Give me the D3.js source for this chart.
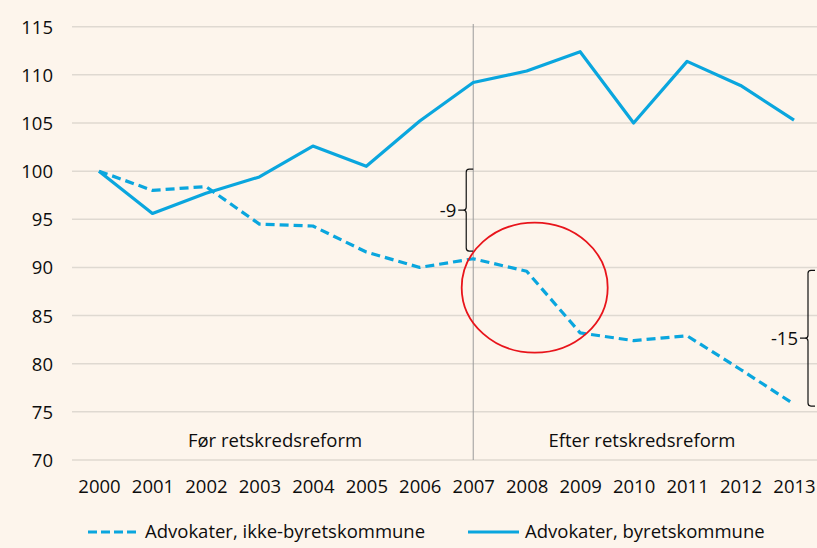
<!DOCTYPE html>
<html><head><meta charset="utf-8">
<script src="https://cdn.jsdelivr.net/npm/d3@7"></script>
<style>
html,body{margin:0;padding:0;background:#FDF5EC;}
svg{display:block;font-family:"Open Sans",Lato,sans-serif;}
</style></head>
<body><svg id="c" width="817" height="548"></svg>
<script>
const years = ["2000","2001","2002","2003","2004","2005","2006","2007","2008","2009","2010","2011","2012","2013"];
const ikkeByret = [100,98.0,98.4,94.5,94.3,91.6,90.0,90.9,89.6,83.2,82.4,82.9,79.4,75.8];
const byret = [100,95.6,97.7,99.4,102.6,100.5,105.2,109.2,110.4,112.4,105.0,111.4,108.9,105.3];
const yTicks = [70,75,80,85,90,95,100,105,110,115];
const seriesNames = ["Advokater, ikke-byretskommune","Advokater, byretskommune"];
const periodLabels = ["Før retskredsreform","Efter retskredsreform"];
const brackets = [{label:"-9", from:100.2, to:91.7},{label:"-15", from:89.7, to:75.6}];
const highlight = {year:"2008", value:87.9};

const svg = d3.select("#c");
const W=817;
const x = d3.scalePoint().domain(years).range([99,794]);
const y = d3.scaleLinear().domain([70,115]).range([460,26.7]);
const blue="#0AA6DE", fs=18.5, ff="Open Sans", tc="#0d0d0d";

// gridlines
svg.append("g").selectAll("line").data(yTicks).join("line")
  .attr("x1",72).attr("x2",W).attr("y1",d=>y(d)).attr("y2",d=>y(d))
  .attr("stroke","#DFD9D1").attr("stroke-width",1.5);

// y axis labels
const yAx = svg.append("g").attr("transform","translate(53,0)")
  .call(d3.axisLeft(y).tickValues(yTicks).tickSize(0).tickPadding(0));
yAx.select(".domain").remove();
yAx.selectAll("text").attr("font-size",fs).attr("font-family",ff).attr("fill",tc).attr("dy","0.35em");

// x axis labels
const xAx = svg.append("g").attr("transform","translate(0,480)")
  .call(d3.axisBottom(x).tickSize(0).tickPadding(0));
xAx.select(".domain").remove();
xAx.selectAll("text").attr("font-size",fs).attr("font-family",ff).attr("fill",tc).attr("dy","0.71em");

// reform vertical line
svg.append("line").attr("x1",x("2007")).attr("x2",x("2007")).attr("y1",24).attr("y2",460)
  .attr("stroke","#9a9a9a").attr("stroke-width",1);

// period labels
svg.append("text").attr("x",275).attr("y",441).attr("dy","0.35em").attr("text-anchor","middle")
  .attr("font-size",fs).attr("fill",tc).text(periodLabels[0]);
svg.append("text").attr("x",642).attr("y",441).attr("dy","0.35em").attr("text-anchor","middle")
  .attr("font-size",fs).attr("fill",tc).text(periodLabels[1]);

// lines
const line = d3.line().x((d,i)=>x(years[i])).y(d=>y(d));
svg.append("path").datum(byret).attr("d",line).attr("fill","none").attr("stroke",blue)
  .attr("stroke-width",3.2).attr("stroke-linejoin","round");
svg.append("path").datum(ikkeByret).attr("d",line).attr("fill","none").attr("stroke",blue)
  .attr("stroke-width",3.2).attr("stroke-dasharray","9,5").attr("stroke-linejoin","round");

// brackets
function bracket(b, bx){
  const y1=y(b.from), y2=y(b.to), ym=(y1+y2)/2;
  const g=svg.append("g").attr("fill","none").attr("stroke","#111").attr("stroke-width",1.2);
  const r=3;
  g.append("path").attr("d",
    `M${bx+7},${y1} L${bx+r},${y1} Q${bx},${y1} ${bx},${y1+r} L${bx},${ym-r} Q${bx},${ym} ${bx-r},${ym} L${bx-8},${ym} M${bx-r},${ym} Q${bx},${ym} ${bx},${ym+r} L${bx},${y2-r} Q${bx},${y2} ${bx+r},${y2} L${bx+7},${y2}`);
  svg.append("text").attr("x",bx-10).attr("y",ym).attr("dy","0.35em").attr("text-anchor","end")
    .attr("font-size",fs).attr("fill",tc).text(b.label);
}
bracket(brackets[0], x("2007")-7);
bracket(brackets[1], x("2013")+14);

// red ellipse highlighting 2008-2009 drop
svg.append("ellipse").attr("cx",x(highlight.year)+8).attr("cy",y(highlight.value)).attr("rx",73).attr("ry",65)
  .attr("fill","none").attr("stroke","#E8141B").attr("stroke-width",1.8);

// legend
const lg=svg.append("g");
lg.append("line").attr("x1",88).attr("x2",140).attr("y1",532).attr("y2",532).attr("stroke",blue)
  .attr("stroke-width",3.2).attr("stroke-dasharray","9,4");
lg.append("text").attr("x",145).attr("y",532).attr("dy","0.35em").attr("font-size",fs).attr("fill",tc).text(seriesNames[0]);
lg.append("line").attr("x1",468).attr("x2",519).attr("y1",532).attr("y2",532).attr("stroke",blue)
  .attr("stroke-width",3.2);
lg.append("text").attr("x",525).attr("y",532).attr("dy","0.35em").attr("font-size",fs).attr("fill",tc).text(seriesNames[1]);
</script></body></html>
